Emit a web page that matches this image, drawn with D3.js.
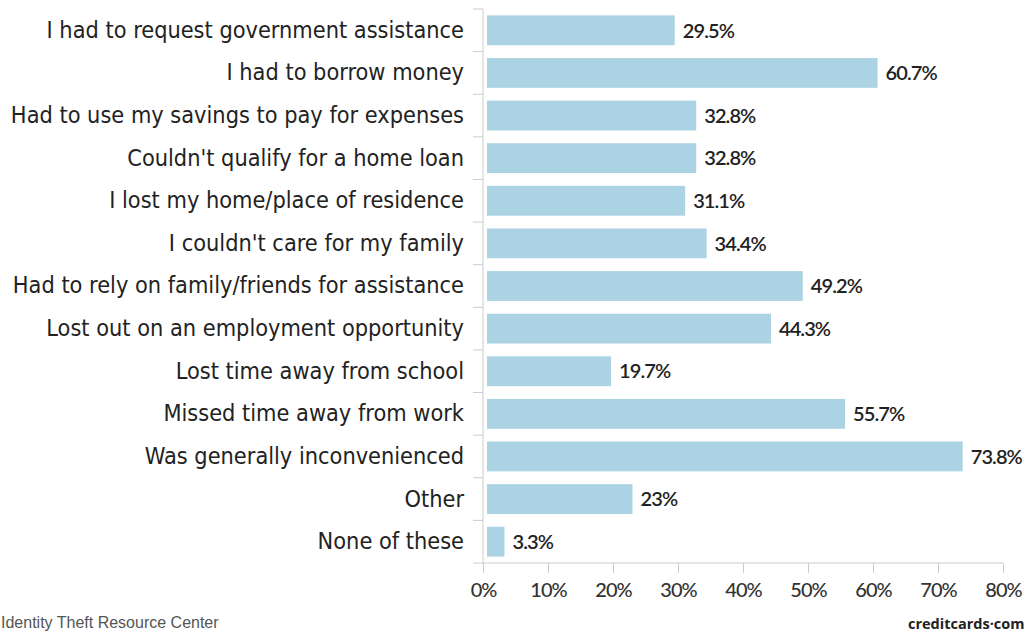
<!DOCTYPE html>
<html><head><meta charset="utf-8">
<script src="https://cdn.jsdelivr.net/npm/d3@7"></script>
<style>
body{margin:0;background:#fff;}
svg{display:block;}
.cat text{font-family:"Liberation Sans Narrow","DejaVu Sans Condensed","Roboto",sans-serif;font-size:23.3px;fill:#222;}
.xax text{font-family:"Lato","Roboto",sans-serif;font-size:20px;font-weight:500;fill:#333;letter-spacing:-1px;}
.val{font-family:"Lato","Roboto",sans-serif;font-size:20px;font-weight:600;fill:#222;letter-spacing:-0.9px;}
</style></head><body>
<svg id="c" width="1036" height="634"></svg>
<script>
const categories = [
  "I had to request government assistance",
  "I had to borrow money",
  "Had to use my savings to pay for expenses",
  "Couldn't qualify for a home loan",
  "I lost my home/place of residence",
  "I couldn't care for my family",
  "Had to rely on family/friends for assistance",
  "Lost out on an employment opportunity",
  "Lost time away from school",
  "Missed time away from work",
  "Was generally inconvenienced",
  "Other",
  "None of these"
];
const values = [29.5, 60.7, 32.8, 32.8, 31.1, 34.4, 49.2, 44.3, 19.7, 55.7, 73.8, 23, 3.3];
const valueLabels = ["29.5%","60.7%","32.8%","32.8%","31.1%","34.4%","49.2%","44.3%","19.7%","55.7%","73.8%","23%","3.3%"];
const xTicks = [0,10,20,30,40,50,60,70,80];

const svg = d3.select("#c");
const mLeft = 483, mRight = 1003, mTop = 9, mBottom = 563;
const x = d3.scaleLinear().domain([0,80]).range([mLeft, mRight]);
const y = d3.scaleBand().domain(categories).range([mTop, mBottom]).paddingInner(0.3).paddingOuter(0.15);

svg.selectAll("rect.bar").data(values).join("rect")
  .attr("class","bar")
  .attr("x", x(0)+4)
  .attr("y", (d,i)=>y(categories[i]))
  .attr("width", d=>x(d)-x(0)-4)
  .attr("height", y.bandwidth())
  .attr("fill","#acd3e3");

svg.selectAll("text.val").data(values).join("text")
  .attr("class","val")
  .attr("x", d=>x(d)+8)
  .attr("y", (d,i)=>y(categories[i])+y.bandwidth()/2)
  .attr("dy","0.36em")
  .text((d,i)=>valueLabels[i]);

const yAxis = d3.axisLeft(y).tickSize(0).tickPadding(19);
const gy = svg.append("g").attr("class","cat").attr("transform",`translate(${mLeft},0)`).call(yAxis);
gy.select(".domain").attr("stroke","#ccc").attr("d",`M0,${mTop}V${mBottom}`);
const step = y.step();
const seps = d3.range(categories.length+1).map(i=> y(categories[0]) - y.paddingInner()*step/2 + i*step);
gy.selectAll("line.sep").data(seps).join("line").attr("class","sep")
  .attr("x1",-10).attr("x2",0).attr("y1",d=>d).attr("y2",d=>d).attr("stroke","#ccc");

const xAxis = d3.axisBottom(x).tickValues(xTicks).tickFormat(d=>d+"%").tickSize(10).tickPadding(10);
const gx = svg.append("g").attr("class","xax").attr("transform",`translate(0,${mBottom})`).call(xAxis);
gx.select(".domain").attr("stroke","#ccc").attr("d",`M${mLeft},0H${mRight}`);
gx.selectAll(".tick line").attr("stroke","#ccc");

svg.append("text").attr("x",1).attr("y",628)
  .style("font-family","Liberation Sans, Arial, sans-serif").style("font-size","16px").attr("fill","#555")
  .text("Identity Theft Resource Center");
svg.append("text").attr("x",908).attr("y",629)
  .style("font-family","Open Sans, sans-serif").style("font-size","14.5px").style("font-weight","bold").attr("fill","#222")
  .text("creditcards\u00b7com");
</script></body></html>
